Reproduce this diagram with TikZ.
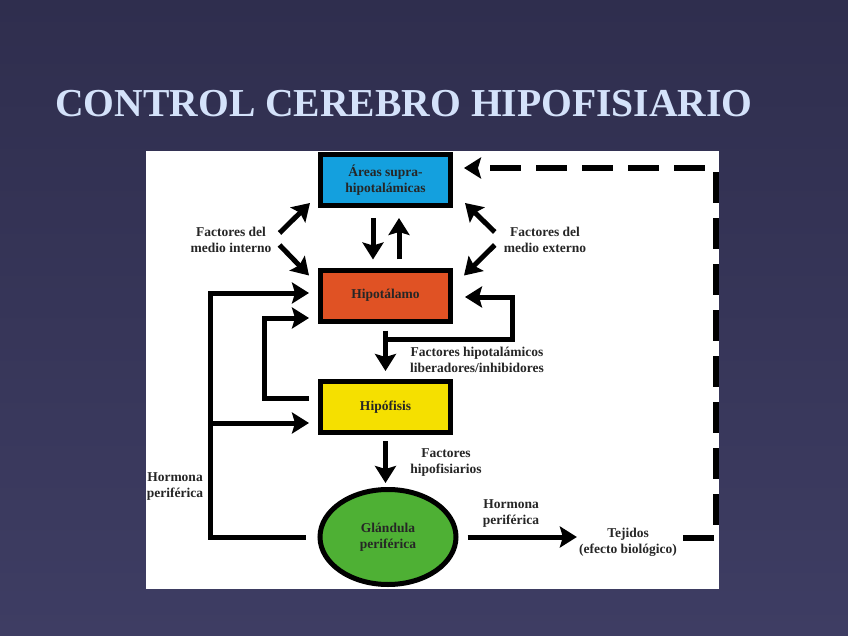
\documentclass[tikz,border=0pt]{standalone}
\usepackage{fontspec}
\setmainfont{Liberation Serif}
\usetikzlibrary{arrows.meta,shapes.geometric,calc}

\definecolor{fondoarriba}{RGB}{47,46,78}
\definecolor{fondoabajo}{RGB}{62,61,99}
\definecolor{titulo}{RGB}{212,226,250}
\definecolor{cian}{RGB}{20,160,222}
\definecolor{naranja}{RGB}{224,82,36}
\definecolor{amarillo}{RGB}{245,224,0}
\definecolor{verde}{RGB}{78,176,52}

\begin{document}
\begin{tikzpicture}[x=1pt,y=-1pt,>={Stealth[length=17pt,width=21pt,inset=3pt]},
  caja/.style={draw, line width=5pt, minimum width=130pt, minimum height=51pt, font=\fontsize{13.5}{16}\selectfont\bfseries, text=black!85, align=center},
  flecha/.style={line width=5pt, ->},
  rotulo/.style={font=\fontsize{13.5}{16}\selectfont\bfseries, text=black!85, align=center, inner sep=0pt}]
  \shade[top color=fondoarriba, bottom color=fondoabajo] (0,0) rectangle (848,636);
  \useasboundingbox (0,0) rectangle (848,636);
  \fill[white] (146,151) rectangle (719,589);

  % titulo
  \node[anchor=base west, inner sep=0pt, font=\fontsize{39.6}{40}\selectfont\bfseries, text=titulo] (titulo) at (55,117) {CONTROL CEREBRO HIPOFISIARIO};

  % cajas
  \node[caja, fill=cian] (areas) at (385.5,180) {Áreas supra-\\hipotalámicas};
  \node[caja, fill=naranja] (hipo) at (385.5,295.5) {Hipotálamo};
  \node[caja, fill=amarillo] (hipof) at (385.5,407) {Hipófisis};
  \node[caja, ellipse, fill=verde, minimum width=136pt, minimum height=95pt] (glandula) at (388,537) {Glándula\\periférica};

  % rotulos
  \node[rotulo] (medint) at (231,240) {Factores del\\medio interno};
  \node[rotulo] (medext) at (545,240) {Factores del\\medio externo};
  \node[rotulo] (facthip) at (477,360) {Factores hipotalámicos\\liberadores/inhibidores};
  \node[rotulo] (facthipof) at (446,463) {Factores\\hipofisiarios};
  \node[rotulo] (hormizq) at (175,487) {Hormona\\periférica};
  \node[rotulo] (hormder) at (511,514) {Hormona\\periférica};
  \node[rotulo] (tejidos) at (628,542) {Tejidos\\(efecto biológico)};

  % flechas
  \draw[flecha] ([xshift=-12.5pt,yshift=-10pt]areas.south) -- ([xshift=-12.5pt,yshift=8pt]hipo.north);
  \draw[flecha] ([xshift=13.5pt,yshift=8pt]hipo.north) -- ([xshift=13.5pt,yshift=-10pt]areas.south);
  \draw[flecha] ([xshift=8pt,yshift=7pt]medint.east) -- ([xshift=-8pt,yshift=5pt]areas.south west);
  \draw[flecha] ([xshift=8pt,yshift=-5pt]medint.east) -- ([xshift=-9pt,yshift=-8pt]hipo.north west);
  \draw[flecha] ([xshift=-9pt,yshift=8pt]medext.west) -- ([xshift=12pt,yshift=5pt]areas.south east);
  \draw[flecha] ([xshift=-9pt,yshift=-5pt]medext.west) -- ([xshift=11pt,yshift=-8pt]hipo.north east);

  \draw[flecha] ([yshift=-7pt]hipo.south) -- ([yshift=8pt]hipof.north);
  \draw[flecha] ([yshift=-16pt]hipo.south) -| ([xshift=59pt,yshift=-1.5pt]hipo.east) -- ([xshift=12pt,yshift=-1.5pt]hipo.east);

  \draw[flecha] ([xshift=-12pt]glandula.west) -| ([xshift=-108pt,yshift=2.5pt]hipo.west) -- ([xshift=-9pt,yshift=2.5pt]hipo.west);
  \draw[flecha] ([xshift=-108pt,yshift=-16pt]hipof.west) -- ([xshift=-9pt,yshift=-16pt]hipof.west);
  \draw[flecha] ([xshift=-9pt,yshift=9pt]hipof.west) -| ([xshift=-54pt,yshift=-22.5pt]hipo.west) -- ([xshift=-9pt,yshift=-22.5pt]hipo.west);

  \draw[flecha] ([yshift=-6pt]hipof.south) -- ($(hipof.south |- glandula.north)+(0,-4)$);
  \draw[flecha] ([xshift=9pt]glandula.east) -- ($(glandula.east -| tejidos.west)+(-2,0)$);

  % retroalimentacion
  \draw[flecha, line width=5.5pt, dash pattern=on 31pt off 15pt] ([xshift=6pt,yshift=4pt]tejidos.east) -| ([xshift=263pt,yshift=12pt]areas.east) -- ([xshift=11pt,yshift=12pt]areas.east);
\end{tikzpicture}
\end{document}
